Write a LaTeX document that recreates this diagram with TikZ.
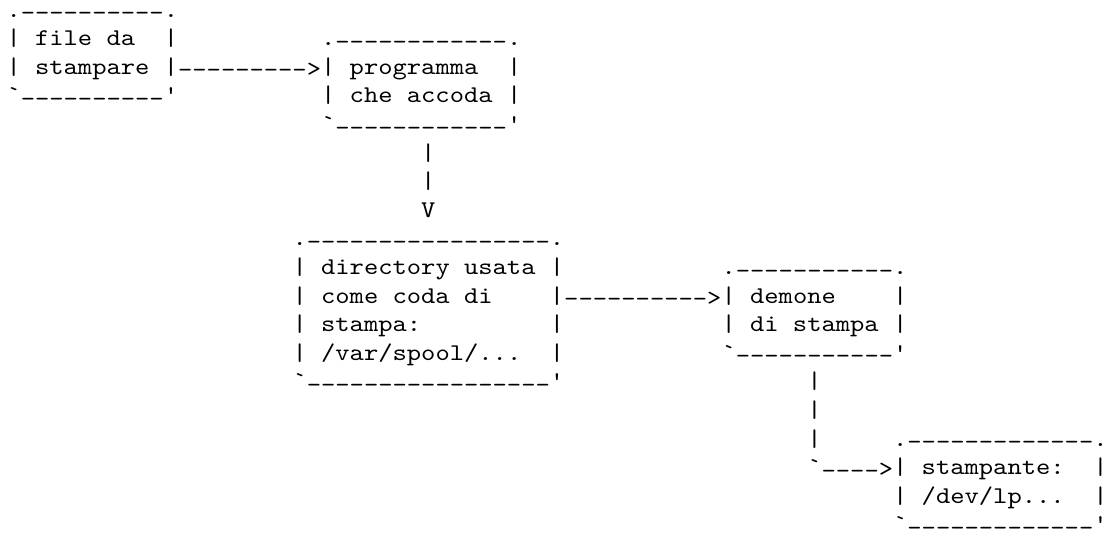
\documentclass[tikz,border=0pt]{standalone}
\usepackage{fontspec}
\newfontfamily\ascfont{lmmono10-regular}[Extension=.otf, FakeStretch=1.1349]
\tikzset{
  asc/.style={anchor=base west, inner sep=0pt, outer sep=0pt, text=black,
    text height=0.58em, text depth=0.2em,
    font=\ascfont\fontsize{24}{28.6}\selectfont}
}
% lowered hyphen runs and arrow heads, as in the reference's typewriter font
\newcommand\lowdash[1]{\raisebox{-3.5pt}[0pt][0pt]{#1}}
\newcommand\lowhead[1]{\raisebox{-2pt}[0pt][0pt]{#1}}
% \asctxt{name}{column}{row}{text}
\newcommand\asctxt[4]{\node[asc] (#1) at ({6.5pt+14.3pt*#2},{520.8pt-28.6pt*#3}) {#4};}
\begin{document}
\begin{tikzpicture}[x=1pt,y=1pt]
\useasboundingbox (0,0) rectangle (1108,538);
% box: file da stampare
\asctxt{fileT}{0}{0}{.\lowdash{----------}.}
\asctxt{fileLa}{0}{1}{|}
\asctxt{fileA}{2}{1}{file da}
\asctxt{fileRa}{11}{1}{|}
\asctxt{fileLb}{0}{2}{|}
\asctxt{fileB}{2}{2}{stampare}
\asctxt{fileBot}{0}{3}{`\lowdash{----------}'}
% connector file -> programma
\asctxt{arrA}{11}{2}{|\lowdash{---------}\lowhead{>}|}
% box: programma che accoda
\asctxt{progT}{22}{1}{.\lowdash{------------}.}
\asctxt{progA}{24}{2}{programma}
\asctxt{progRa}{35}{2}{|}
\asctxt{progLb}{22}{3}{|}
\asctxt{progB}{24}{3}{che accoda}
\asctxt{progRb}{35}{3}{|}
\asctxt{progBot}{22}{4}{`\lowdash{------------}'}
% connector programma -> directory
\asctxt{arrB1}{29}{5}{|}
\asctxt{arrB2}{29}{6}{|}
\asctxt{arrB3}{29}{7}{V}
% box: directory
\asctxt{dirT}{20}{8}{.\lowdash{-----------------}.}
\asctxt{dirLa}{20}{9}{|}
\asctxt{dirA}{22}{9}{directory usata}
\asctxt{dirRa}{38}{9}{|}
\asctxt{dirLb}{20}{10}{|}
\asctxt{dirB}{22}{10}{come coda di}
\asctxt{dirLc}{20}{11}{|}
\asctxt{dirC}{22}{11}{stampa:}
\asctxt{dirRc}{38}{11}{|}
\asctxt{dirLd}{20}{12}{|}
\asctxt{dirD}{22}{12}{/var/spool/...}
\asctxt{dirRd}{38}{12}{|}
\asctxt{dirBot}{20}{13}{`\lowdash{-----------------}'}
% connector directory -> demone
\asctxt{arrC}{38}{10}{|\lowdash{----------}\lowhead{>}|}
% box: demone di stampa
\asctxt{demT}{50}{9}{.\lowdash{-----------}.}
\asctxt{demA}{52}{10}{demone}
\asctxt{demRa}{62}{10}{|}
\asctxt{demLb}{50}{11}{|}
\asctxt{demB}{52}{11}{di stampa}
\asctxt{demRb}{62}{11}{|}
\asctxt{demBot}{50}{12}{`\lowdash{-----------}'}
% connector demone -> stampante
\asctxt{arrD1}{56}{13}{|}
\asctxt{arrD2}{56}{14}{|}
\asctxt{arrD3}{56}{15}{|}
\asctxt{arrD4}{56}{16}{`\lowdash{----}\lowhead{>}|}
% box: stampante
\asctxt{stT}{62}{15}{.\lowdash{-------------}.}
\asctxt{stA}{64}{16}{stampante:}
\asctxt{stRa}{76}{16}{|}
\asctxt{stLb}{62}{17}{|}
\asctxt{stB}{64}{17}{/dev/lp...}
\asctxt{stRb}{76}{17}{|}
\asctxt{stBot}{62}{18}{`\lowdash{-------------}'}
\end{tikzpicture}
\end{document}
